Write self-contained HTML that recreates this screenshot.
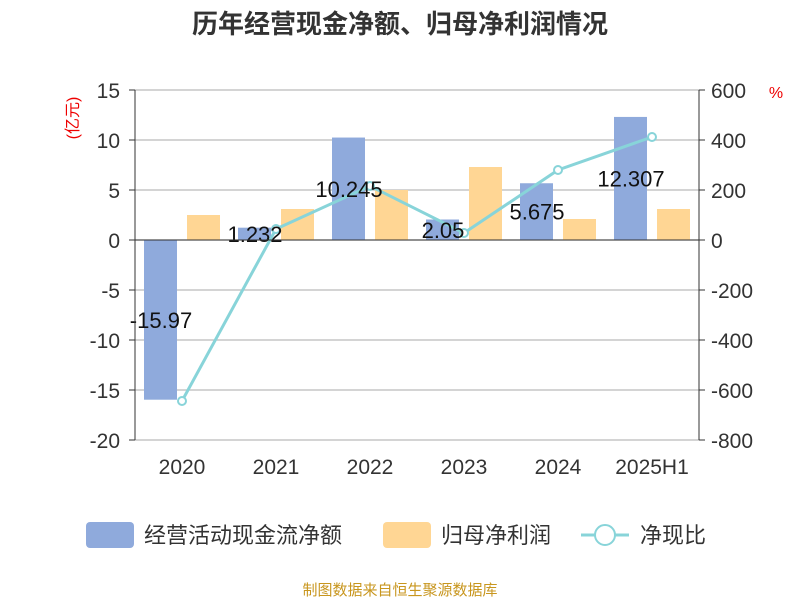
<!DOCTYPE html>
<html><head><meta charset="utf-8"><style>
body{margin:0;background:#fff;}
svg{font-family:"Liberation Sans","Noto Sans CJK SC",sans-serif;}
</style></head><body>
<svg width="800" height="600" viewBox="0 0 800 600" xmlns="http://www.w3.org/2000/svg">
<text x="400" y="33" text-anchor="middle" font-size="26" font-weight="bold" fill="#333">历年经营现金净额、归母净利润情况</text>
<text transform="translate(78,118) rotate(-90)" text-anchor="middle" font-size="16" fill="#e00">(亿元)</text>
<text x="776" y="98" text-anchor="middle" font-size="16" fill="#e00">%</text>
<g id="grid"></g><g id="bars"></g><g id="line"></g><g id="labels"></g><g id="axes"></g>
<g>
<rect x="86" y="522" width="48" height="26" rx="4" fill="#8faadc"/>
<text x="144" y="543" font-size="22" fill="#333">经营活动现金流净额</text>
<rect x="383" y="522" width="48" height="26" rx="4" fill="#ffd694"/>
<text x="441" y="543" font-size="22" fill="#333">归母净利润</text>
<line x1="581" y1="535" x2="629" y2="535" stroke="#88d4d9" stroke-width="3"/>
<circle cx="605" cy="535" r="10" fill="#fff" stroke="#88d4d9" stroke-width="2"/>
<text x="640" y="543" font-size="22" fill="#333">净现比</text>
</g>
<text x="400" y="595" text-anchor="middle" font-size="15" fill="#c8961e">制图数据来自恒生聚源数据库</text>
</svg>
<script>
const categories=["2020","2021","2022","2023","2024","2025H1"];
const cashFlow=[-15.97,1.232,10.245,2.05,5.675,12.307];
const netProfit=[2.5,3.1,5.0,7.3,2.1,3.1];
const ratio=[-644,44,216,28,280,412];
const leftTicks=[15,10,5,0,-5,-10,-15,-20];
const rightTicks=[600,400,200,0,-200,-400,-600,-800];
const NS="http://www.w3.org/2000/svg";
const X0=135,X1=699,Y0=90,Y1=440;
const yL=v=>Y0+(15-v)/35*(Y1-Y0);
const yR=v=>Y0+(600-v)/1400*(Y1-Y0);
const band=(X1-X0)/categories.length;
const xc=i=>X0+band*(i+0.5);
function mk(tag,attrs,parent){const e=document.createElementNS(NS,tag);for(const k in attrs)e.setAttribute(k,attrs[k]);document.getElementById(parent).appendChild(e);return e;}
leftTicks.forEach((t,i)=>{
 const g=mk("line",{x1:X0,x2:X1,y1:yL(t),y2:yL(t),stroke:"#bbb","stroke-width":1.2},"grid");
 
 
 const lt=mk("text",{x:X0-15,y:yL(t)+8,"text-anchor":"end","font-size":21,fill:"#333"},"axes");lt.textContent=t;
 
 
 const rt=mk("text",{x:X1+12,y:yR(rightTicks[i])+8,"font-size":21,fill:"#333"},"axes");rt.textContent=rightTicks[i];
 
 
 const tk=mk("line",{x1:X1,x2:X1+6,y1:yR(rightTicks[i]),y2:yR(rightTicks[i]),stroke:"#333"},"axes");
 
 
 const tl=mk("line",{x1:X0-6,x2:X0,y1:yL(t),y2:yL(t),stroke:"#333"},"axes");
 
 
});
let a=mk("line",{x1:X0,x2:X0,y1:Y0,y2:Y1,stroke:"#333"},"axes");
a=mk("line",{x1:X1,x2:X1,y1:Y0,y2:Y1,stroke:"#333"},"axes");
a=mk("line",{x1:X0,x2:X1,y1:yL(0),y2:yL(0),stroke:"#333"},"axes");
const bw=33;
categories.forEach((c,i)=>{
 const v=cashFlow[i];
 const b=mk("rect",{x:xc(i)-38,y:Math.min(yL(v),yL(0)),width:bw,height:Math.abs(yL(v)-yL(0)),fill:"#8faadc"},"bars");
 
 
 const p=netProfit[i];
 const o=mk("rect",{x:xc(i)+5,y:Math.min(yL(p),yL(0)),width:bw,height:Math.abs(yL(p)-yL(0)),fill:"#ffd694"},"bars");
 
 
 const l=mk("text",{x:xc(i)-21,y:(yL(v)+yL(0))/2+8,"text-anchor":"middle","font-size":22,fill:"#111"},"labels");l.textContent=v;
 
 
 const xl=mk("text",{x:xc(i),y:474,"text-anchor":"middle","font-size":21,fill:"#333"},"axes");xl.textContent=c;
 
 
});
const pl=mk("polyline",{points:ratio.map((v,i)=>xc(i)+","+yR(v)).join(" "),fill:"none",stroke:"#88d4d9","stroke-width":3},"line");


ratio.forEach((v,i)=>{
 const c=mk("circle",{cx:xc(i),cy:yR(v),r:4,fill:"#fff",stroke:"#88d4d9","stroke-width":2},"line");
 
 
});
</script>
</body></html>
